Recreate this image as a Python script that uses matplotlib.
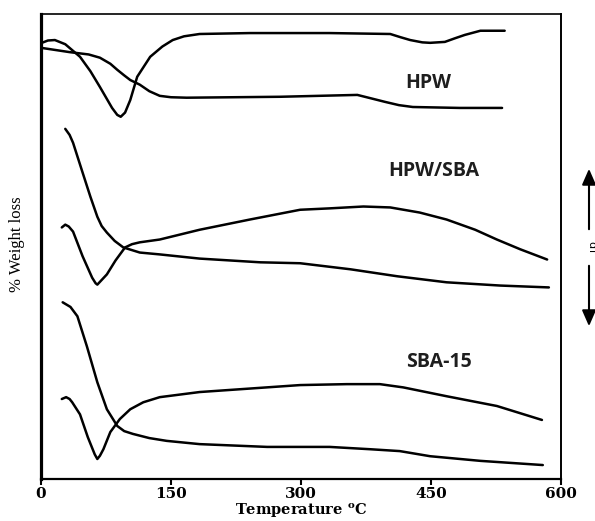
import matplotlib
matplotlib.use("Agg")
import matplotlib.pyplot as plt

# ---- data (temperature in °C, signal in arbitrary units 0-100) ----
hpw_dta_t = [1, 8, 16, 28, 45, 57, 68, 82, 88, 92, 97, 103, 111, 126, 140, 152, 165, 183, 241, 333, 403, 415, 426, 440, 449, 466, 478, 489, 507, 535]
hpw_dta_y = [93.8, 94.3, 94.4, 93.5, 90.8, 87.7, 84.3, 79.8, 78.3, 77.9, 78.8, 81.5, 86.5, 90.8, 93.0, 94.4, 95.2, 95.7, 95.9, 95.9, 95.7, 95.0, 94.4, 93.9, 93.8, 94.0, 94.8, 95.5, 96.4, 96.4]

hpw_tg_t = [1, 33, 55, 68, 80, 88, 96, 103, 114, 125, 137, 150, 168, 276, 365, 380, 397, 413, 429, 483, 532]
hpw_tg_y = [92.7, 91.8, 91.3, 90.6, 89.3, 88.0, 86.8, 85.8, 84.8, 83.4, 82.4, 82.1, 82.0, 82.2, 82.6, 81.9, 81.1, 80.4, 80.0, 79.8, 79.8]

hs_tg_t = [28, 33, 37, 48, 57, 65, 70, 76, 85, 95, 114, 137, 183, 253, 299, 357, 411, 468, 530, 586]
hs_tg_y = [75.3, 74.0, 72.3, 65.9, 60.7, 56.4, 54.4, 53.0, 51.2, 49.8, 48.7, 48.3, 47.4, 46.6, 46.4, 45.1, 43.6, 42.3, 41.6, 41.2]

hs_dta_t = [24, 28, 32, 37, 48, 59, 63, 65, 68, 76, 86, 97, 105, 114, 137, 183, 241, 299, 333, 372, 403, 437, 468, 501, 526, 553, 584]
hs_dta_y = [54.1, 54.7, 54.3, 53.2, 47.9, 43.3, 42.1, 41.8, 42.4, 44.0, 47.0, 49.8, 50.5, 50.9, 51.5, 53.6, 55.8, 57.9, 58.2, 58.6, 58.4, 57.3, 55.8, 53.6, 51.5, 49.4, 47.2]

sba_tg_t = [25, 34, 42, 53, 65, 76, 88, 96, 106, 125, 145, 183, 261, 333, 380, 414, 449, 507, 579]
sba_tg_y = [38.0, 37.0, 35.0, 28.5, 20.8, 15.0, 11.4, 10.3, 9.7, 8.8, 8.2, 7.5, 6.9, 6.9, 6.4, 6.0, 4.9, 3.9, 3.0]

sba_dta_t = [24, 29, 33, 36, 45, 54, 62, 65, 68, 72, 80, 91, 103, 118, 137, 183, 299, 353, 391, 418, 468, 526, 578]
sba_dta_y = [17.2, 17.6, 17.2, 16.5, 13.9, 9.0, 5.3, 4.3, 5.0, 6.4, 10.1, 12.9, 15.0, 16.5, 17.6, 18.7, 20.2, 20.4, 20.4, 19.7, 17.8, 15.7, 12.7]

x_ticks = [0, 150, 300, 450, 600]
x_ticklabels = ["0", "150", "300", "450", "600"]
curve_labels = ["HPW", "HPW/SBA", "SBA-15"]
label_pos_t = [447, 453, 459]
label_pos_y = [85.2, 66.3, 25.1]

plt.rcParams["mathtext.fontset"] = "custom"
plt.rcParams["mathtext.rm"] = "DejaVu Serif:bold"
plt.rcParams["mathtext.bf"] = "DejaVu Serif:bold"

fig = plt.figure(figsize=(5.95, 5.21), dpi=100)
ax = fig.add_axes([41 / 595, 1 - 479 / 521, (561 - 41) / 595, (479 - 14) / 521])

lw = 1.8
for t, y in [(hpw_dta_t, hpw_dta_y), (hpw_tg_t, hpw_tg_y), (hs_tg_t, hs_tg_y),
             (hs_dta_t, hs_dta_y), (sba_tg_t, sba_tg_y), (sba_dta_t, sba_dta_y)]:
    ax.plot(t, y, color="black", lw=lw, solid_capstyle="round", solid_joinstyle="round")

ax.set_xlim(0, 600)
ax.set_ylim(0, 100)
ax.set_xticks(x_ticks)
ax.set_xticklabels(x_ticklabels, fontfamily="DejaVu Serif", fontweight="bold", fontsize=11)
ax.set_yticks([])
ax.tick_params(axis="x", direction="out", length=4.5, width=1.5, pad=1.5)

ax.spines["left"].set_linewidth(2.3)
ax.spines["bottom"].set_linewidth(1.6)
ax.spines["top"].set_linewidth(1.2)
ax.spines["right"].set_linewidth(1.4)

for lab, tx, ty in zip(curve_labels, label_pos_t, label_pos_y):
    ax.text(tx, ty, lab, ha="center", va="center", fontfamily="Open Sans",
            fontweight="bold", fontsize=14, color="#1e1e1e")

fig.text(301 / 595, 1 - 511 / 521, r"Temperature $^{\rm o}$C", ha="center", va="center",
         fontfamily="DejaVu Serif", fontweight="bold", fontsize=10.5)

fig.text(17 / 595, 1 - 244 / 521, "% Weight loss", rotation=90, ha="center", va="center",
         fontfamily="Liberation Serif", fontsize=12)

# dT arrow on the right
arrow_x = 589 / 595
arrow_kw = dict(arrowstyle="-|>,head_length=0.8,head_width=0.35", color="black", lw=1.5)
fig.add_artist(matplotlib.patches.FancyArrowPatch((arrow_x, 1 - 232 / 521), (arrow_x, 1 - 166 / 521),
               transform=fig.transFigure, mutation_scale=12, **arrow_kw))
fig.add_artist(matplotlib.patches.FancyArrowPatch((arrow_x, 1 - 263 / 521), (arrow_x, 1 - 329 / 521),
               transform=fig.transFigure, mutation_scale=12, **arrow_kw))
fig.text(arrow_x + 2 / 595, 1 - 248 / 521, "dT", rotation=-90, ha="center", va="center",
         fontfamily="DejaVu Sans", fontsize=8)

fig.savefig("out.png", dpi=100)
